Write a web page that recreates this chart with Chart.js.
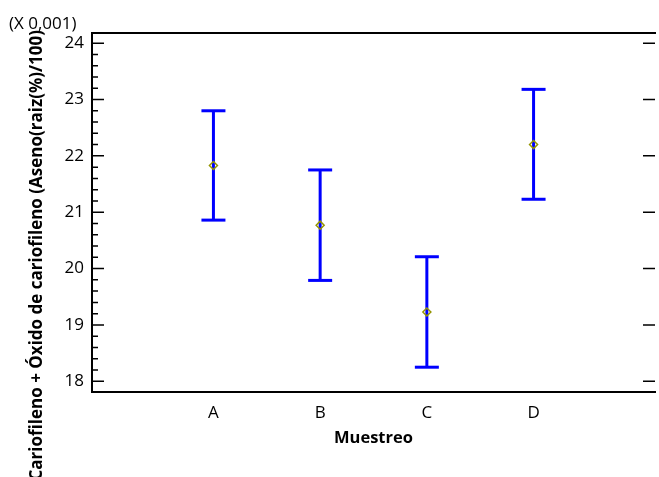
<!DOCTYPE html>
<html>
<head>
<meta charset="utf-8">
<script src="https://cdn.jsdelivr.net/npm/chart.js@4.4.1/dist/chart.umd.min.js"></script>
<style>
  html, body { margin: 0; padding: 0; background: #fff; overflow: hidden; }
  #wrap { width: 670px; height: 477px; }
</style>
</head>
<body>
<div id="wrap"><canvas id="myChart" width="670" height="477"></canvas></div>
<script>
// values (units of 0.001)
const categories = ['A', 'B', 'C', 'D'];
const means = [21.83, 20.77, 19.23, 22.20];
const lower = [20.86, 19.79, 18.25, 21.23];
const upper = [22.80, 21.75, 20.21, 23.18];
const yTicks = [18, 19, 20, 21, 22, 23, 24];
const yTitle = 'Cariofileno + Óxido de cariofileno (Aseno(raiz(%)/100)';
const xTitle = 'Muestreo';
const yScaleNote = '(X 0,001)';

const fontName = '"Open Sans"';

// one line dataset per interval, caps are 'line' point styles
const errorSets = categories.map((c, i) => ({
  label: c,
  data: [{ x: i, y: lower[i] }, { x: i, y: upper[i] }],
  showLine: true,
  borderColor: '#0000ff',
  borderWidth: 3,
  pointStyle: 'line',
  pointRadius: 12,
  pointBorderWidth: 3,
  pointBorderColor: '#0000ff',
  pointHoverRadius: 12
}));

const meanSet = {
  label: 'media',
  data: means.map((m, i) => ({ x: i, y: m })),
  showLine: false,
  pointStyle: 'rectRot',
  pointRadius: 4,
  pointHoverRadius: 4,
  pointBorderWidth: 1.5,
  pointBorderColor: '#949400',
  pointBackgroundColor: 'rgba(0,0,0,0)'
};

const frame = {
  id: 'frame',
  afterDraw(chart) {
    const ctx = chart.ctx;
    const { left, top, right, bottom } = chart.chartArea;
    const y = chart.scales.y;
    ctx.save();
    ctx.strokeStyle = '#000';
    ctx.lineWidth = 2;
    ctx.beginPath();
    ctx.moveTo(left - 1, top);
    ctx.lineTo(right + 1, top);
    ctx.stroke();

    // inward ticks
    ctx.lineWidth = 1.5;
    ctx.beginPath();
    yTicks.forEach((t, k) => {
      const py = y.getPixelForValue(t);
      ctx.moveTo(left, py); ctx.lineTo(left + 12, py);
      ctx.moveTo(right, py); ctx.lineTo(right - 12, py);
      if (k < yTicks.length - 1) {
        for (let m = 1; m < 5; m++) {
          const pm = y.getPixelForValue(t + m * (yTicks[k + 1] - t) / 5);
          ctx.moveTo(left, pm); ctx.lineTo(left + 6, pm);
        }
      }
    });
    ctx.stroke();

    // titles
    ctx.fillStyle = '#000';
    ctx.font = 'bold 16.5px ' + fontName;
    ctx.textAlign = 'center';
    ctx.textBaseline = 'middle';
    ctx.fillText(xTitle, (left + right) / 2, 438);

    ctx.font = '17px ' + fontName;
    ctx.textAlign = 'left';
    ctx.fillText(yScaleNote, 9, 24);

    ctx.translate(37, 30);
    ctx.rotate(-Math.PI / 2);
    ctx.font = 'bold 17px ' + fontName;
    ctx.textAlign = 'right';
    ctx.fillText(yTitle, 0, 0);
    ctx.restore();
  }
};

new Chart(document.getElementById('myChart'), {
  type: 'scatter',
  data: { datasets: [meanSet, ...errorSets] },
  options: {
    responsive: false,
    animation: false,
    events: [],
    layout: { padding: { top: 33, right: 5, left: 0, bottom: 0 } },
    plugins: { legend: { display: false }, tooltip: { enabled: false } },
    scales: {
      x: {
        type: 'linear',
        min: -1.138,
        max: 4.138,
        afterBuildTicks: s => { s.ticks = categories.map((c, i) => ({ value: i })); },
        afterFit: s => { s.height = 85; },
        grid: { display: true, drawOnChartArea: false, drawTicks: false },
        border: { display: true, color: '#000', width: 2 },
        ticks: {
          color: '#000',
          padding: 11,
          font: { family: fontName, size: 17 },
          callback: v => categories[v]
        }
      },
      y: {
        min: 17.81,
        max: 24.18,
        afterBuildTicks: s => { s.ticks = yTicks.map(v => ({ value: v })); },
        afterFit: s => { s.width = 92; },
        grid: { display: true, drawOnChartArea: false, drawTicks: false },
        border: { display: true, color: '#000', width: 2 },
        ticks: {
          color: '#000',
          padding: 8,
          font: { family: fontName, size: 17 },
          callback: v => String(v)
        }
      }
    }
  },
  plugins: [frame]
});
</script>
</body>
</html>
